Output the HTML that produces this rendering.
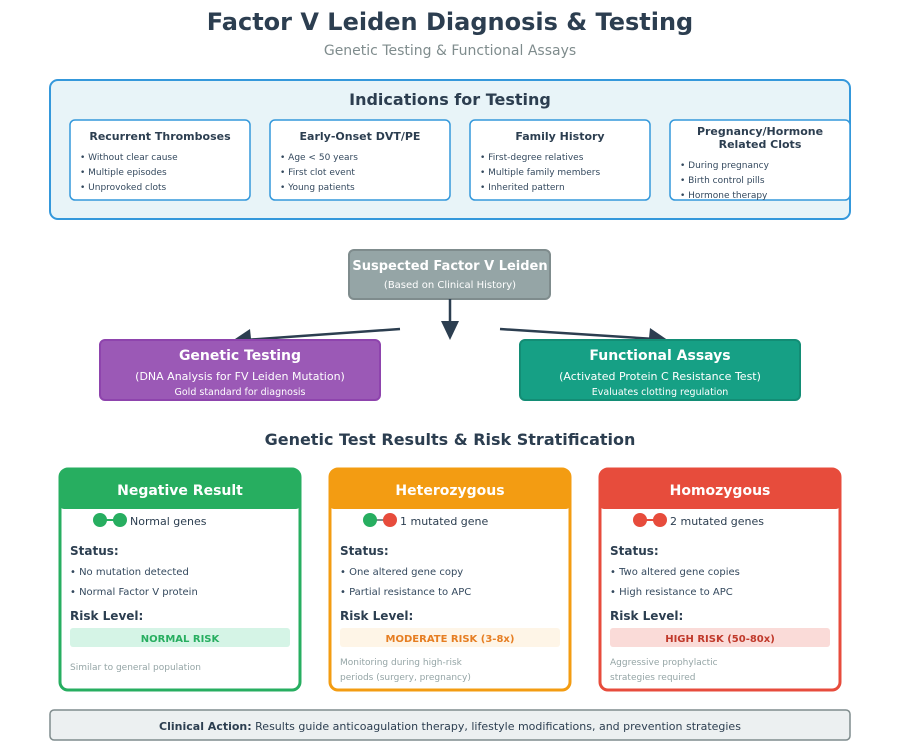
<!DOCTYPE html>
<html><head><meta charset="utf-8"><style>
body{margin:0;background:#fff}
svg{display:block;font-family:"DejaVu Sans","Liberation Sans",sans-serif}
</style></head><body>
<svg width="900" height="750" viewBox="0 0 900 750" xmlns="http://www.w3.org/2000/svg">
<text x="450" y="30" text-anchor="middle" font-size="24" font-weight="bold" fill="#2c3e50">Factor V Leiden Diagnosis &amp; Testing</text>
<text x="450" y="55" text-anchor="middle" font-size="14" fill="#7f8c8d">Genetic Testing &amp; Functional Assays</text>

<rect x="50" y="80" width="800" height="139" rx="8" fill="#e8f4f8" stroke="#3498db" stroke-width="2"/>
<text x="450" y="105" text-anchor="middle" font-size="16" font-weight="bold" fill="#2c3e50">Indications for Testing</text>
<g font-size="9" fill="#34495e">
<rect x="70" y="120" width="180" height="80" rx="5" fill="#fff" stroke="#3498db" stroke-width="1.5"/>
<text x="160" y="140" text-anchor="middle" font-size="11" font-weight="bold" fill="#2c3e50">Recurrent Thromboses</text>
<text x="80" y="160">• Without clear cause</text><text x="80" y="175">• Multiple episodes</text><text x="80" y="190">• Unprovoked clots</text>
<rect x="270" y="120" width="180" height="80" rx="5" fill="#fff" stroke="#3498db" stroke-width="1.5"/>
<text x="360" y="140" text-anchor="middle" font-size="11" font-weight="bold" fill="#2c3e50">Early-Onset DVT/PE</text>
<text x="280" y="160">• Age &lt; 50 years</text><text x="280" y="175">• First clot event</text><text x="280" y="190">• Young patients</text>
<rect x="470" y="120" width="180" height="80" rx="5" fill="#fff" stroke="#3498db" stroke-width="1.5"/>
<text x="560" y="140" text-anchor="middle" font-size="11" font-weight="bold" fill="#2c3e50">Family History</text>
<text x="480" y="160">• First-degree relatives</text><text x="480" y="175">• Multiple family members</text><text x="480" y="190">• Inherited pattern</text>
<rect x="670" y="120" width="180" height="80" rx="5" fill="#fff" stroke="#3498db" stroke-width="1.5"/>
<text x="760" y="135" text-anchor="middle" font-size="11" font-weight="bold" fill="#2c3e50">Pregnancy/Hormone</text>
<text x="760" y="148" text-anchor="middle" font-size="11" font-weight="bold" fill="#2c3e50">Related Clots</text>
<text x="680" y="168">• During pregnancy</text><text x="680" y="183">• Birth control pills</text><text x="680" y="198">• Hormone therapy</text>
</g>

<rect x="349" y="250" width="201" height="49" rx="5" fill="#95a5a6" stroke="#7f8c8d" stroke-width="2"/>
<text x="450" y="270" text-anchor="middle" font-size="13" font-weight="bold" fill="#fff">Suspected Factor V Leiden</text>
<text x="450" y="288" text-anchor="middle" font-size="10" fill="#fff">(Based on Clinical History)</text>

<g stroke="#2c3e50" stroke-width="2.5" fill="#2c3e50">
<line x1="450" y1="299" x2="450" y2="325"/>
<polygon points="441,321 459,321 450,340" stroke="none"/>
<line x1="400" y1="329" x2="245" y2="340"/>
<polygon points="229,343 250,329 252,348" stroke="none"/>
<line x1="500" y1="329" x2="655" y2="339"/>
<polygon points="672,343 648,348 650,328" stroke="none"/>
</g>

<rect x="100" y="340" width="280" height="60" rx="5" fill="#9b59b6" stroke="#8e44ad" stroke-width="2"/>
<text x="240" y="360" text-anchor="middle" font-size="14" font-weight="bold" fill="#fff">Genetic Testing</text>
<text x="240" y="380" text-anchor="middle" font-size="11" fill="#fff">(DNA Analysis for FV Leiden Mutation)</text>
<text x="240" y="395" text-anchor="middle" font-size="9.5" fill="#fff">Gold standard for diagnosis</text>
<rect x="520" y="340" width="280" height="60" rx="5" fill="#16a085" stroke="#138d75" stroke-width="2"/>
<text x="660" y="360" text-anchor="middle" font-size="14" font-weight="bold" fill="#fff">Functional Assays</text>
<text x="660" y="380" text-anchor="middle" font-size="11" fill="#fff">(Activated Protein C Resistance Test)</text>
<text x="660" y="395" text-anchor="middle" font-size="9.5" fill="#fff">Evaluates clotting regulation</text>

<text x="450" y="445" text-anchor="middle" font-size="16" font-weight="bold" fill="#2c3e50">Genetic Test Results &amp; Risk Stratification</text>

<!-- card 1 -->
<g>
<rect x="60" y="469" width="240" height="221" rx="8" fill="#fff" stroke="#27ae60" stroke-width="3"/>
<path d="M60,477 a8,8 0 0 1 8,-8 h224 a8,8 0 0 1 8,8 v28 a4,4 0 0 1 -4,4 h-232 a4,4 0 0 1 -4,-4 z" fill="#27ae60"/>
<text x="180" y="495" text-anchor="middle" font-size="14" font-weight="bold" fill="#fff">Negative Result</text>
<line x1="100" y1="520" x2="120" y2="520" stroke="#27ae60" stroke-width="2"/>
<circle cx="100" cy="520" r="7" fill="#27ae60"/><circle cx="120" cy="520" r="7" fill="#27ae60"/>
<text x="130" y="525" font-size="11" fill="#2c3e50">Normal genes</text>
<text x="70" y="555" font-size="12" font-weight="bold" fill="#2c3e50">Status:</text>
<text x="70" y="575" font-size="10" fill="#34495e">• No mutation detected</text>
<text x="70" y="595" font-size="10" fill="#34495e">• Normal Factor V protein</text>
<text x="70" y="620" font-size="12" font-weight="bold" fill="#2c3e50">Risk Level:</text>
<rect x="70" y="628" width="220" height="19" rx="3" fill="#d5f4e6"/>
<text x="180" y="642" text-anchor="middle" font-size="10" font-weight="bold" fill="#27ae60">NORMAL RISK</text>
<text x="70" y="670" font-size="9" fill="#95a5a6">Similar to general population</text>
</g>
<!-- card 2 -->
<g>
<rect x="330" y="469" width="240" height="221" rx="8" fill="#fff" stroke="#f39c12" stroke-width="3"/>
<path d="M330,477 a8,8 0 0 1 8,-8 h224 a8,8 0 0 1 8,8 v28 a4,4 0 0 1 -4,4 h-232 a4,4 0 0 1 -4,-4 z" fill="#f39c12"/>
<text x="450" y="495" text-anchor="middle" font-size="14" font-weight="bold" fill="#fff">Heterozygous</text>
<line x1="370" y1="520" x2="390" y2="520" stroke="#7f8c8d" stroke-width="2"/>
<circle cx="370" cy="520" r="7" fill="#27ae60"/><circle cx="390" cy="520" r="7" fill="#e74c3c"/>
<text x="400" y="525" font-size="11" fill="#2c3e50">1 mutated gene</text>
<text x="340" y="555" font-size="12" font-weight="bold" fill="#2c3e50">Status:</text>
<text x="340" y="575" font-size="10" fill="#34495e">• One altered gene copy</text>
<text x="340" y="595" font-size="10" fill="#34495e">• Partial resistance to APC</text>
<text x="340" y="620" font-size="12" font-weight="bold" fill="#2c3e50">Risk Level:</text>
<rect x="340" y="628" width="220" height="19" rx="3" fill="#fef5e7"/>
<text x="450" y="642" text-anchor="middle" font-size="10" font-weight="bold" fill="#e67e22">MODERATE RISK (3-8x)</text>
<text x="340" y="665" font-size="9" fill="#95a5a6">Monitoring during high-risk</text>
<text x="340" y="680" font-size="9" fill="#95a5a6">periods (surgery, pregnancy)</text>
</g>
<!-- card 3 -->
<g>
<rect x="600" y="469" width="240" height="221" rx="8" fill="#fff" stroke="#e74c3c" stroke-width="3"/>
<path d="M600,477 a8,8 0 0 1 8,-8 h224 a8,8 0 0 1 8,8 v28 a4,4 0 0 1 -4,4 h-232 a4,4 0 0 1 -4,-4 z" fill="#e74c3c"/>
<text x="720" y="495" text-anchor="middle" font-size="14" font-weight="bold" fill="#fff">Homozygous</text>
<line x1="640" y1="520" x2="660" y2="520" stroke="#e74c3c" stroke-width="2"/>
<circle cx="640" cy="520" r="7" fill="#e74c3c"/><circle cx="660" cy="520" r="7" fill="#e74c3c"/>
<text x="670" y="525" font-size="11" fill="#2c3e50">2 mutated genes</text>
<text x="610" y="555" font-size="12" font-weight="bold" fill="#2c3e50">Status:</text>
<text x="610" y="575" font-size="10" fill="#34495e">• Two altered gene copies</text>
<text x="610" y="595" font-size="10" fill="#34495e">• High resistance to APC</text>
<text x="610" y="620" font-size="12" font-weight="bold" fill="#2c3e50">Risk Level:</text>
<rect x="610" y="628" width="220" height="19" rx="3" fill="#fadbd8"/>
<text x="720" y="642" text-anchor="middle" font-size="10" font-weight="bold" fill="#c0392b">HIGH RISK (50-80x)</text>
<text x="610" y="665" font-size="9" fill="#95a5a6">Aggressive prophylactic</text>
<text x="610" y="680" font-size="9" fill="#95a5a6">strategies required</text>
</g>

<rect x="50" y="710" width="800" height="30" rx="4" fill="#ecf0f1" stroke="#7f8c8d" stroke-width="1.5"/>
<text x="450" y="730" text-anchor="middle" font-size="11" fill="#2c3e50"><tspan font-weight="bold">Clinical Action:</tspan> Results guide anticoagulation therapy, lifestyle modifications, and prevention strategies</text>
</svg>
</body></html>
